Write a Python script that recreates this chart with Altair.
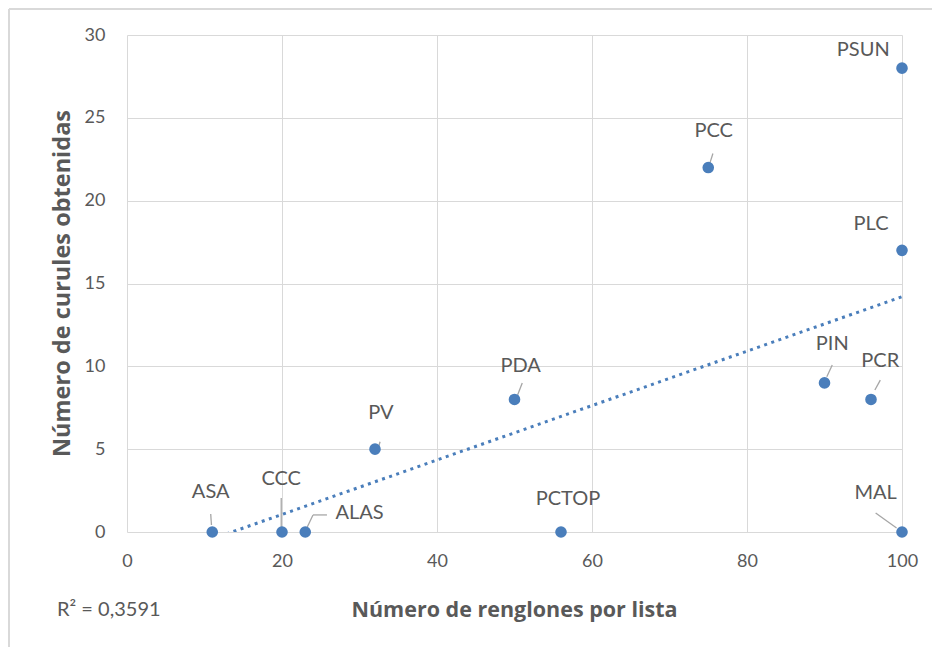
import altair as alt
import pandas as pd

# Data
parties = ["ASA", "CCC", "ALAS", "PV", "PDA", "PCTOP", "PCC", "PSUN", "PLC", "PIN", "PCR", "MAL"]
renglones = [11, 20, 23, 32, 50, 56, 75, 100, 100, 90, 96, 100]
curules = [0, 0, 0, 5, 8, 0, 22, 28, 17, 9, 8, 0]

# label anchor positions (data units)
label_x = [10.8, 19.9, 30.0, 32.75, 50.8, 56.9, 75.7, 95.0, 96.0, 91.0, 97.2, 96.6]
label_y = [2.41, 3.2, 1.15, 7.18, 10.0, 2.0, 24.2, 29.1, 18.6, 11.35, 10.35, 2.38]

# leader line segments (data units)
lead_x1 = [10.8, 19.9, 23.2, 32.65, 51.0, 75.6, 91.0, 97.2, 96.6, 24.0]
lead_y1 = [1.09, 2.05, 0.24, 5.45, 8.99, 22.85, 10.08, 9.17, 1.15, 1.03]
lead_x2 = [10.9, 19.9, 24.0, 32.35, 50.4, 75.2, 90.3, 96.5, 99.3, 25.8]
lead_y2 = [0.42, 0.3, 1.03, 4.95, 8.27, 22.25, 9.37, 8.57, 0.24, 1.03]

r2_text = ["R² = 0,3591"]

df = pd.DataFrame({"party": parties, "x": renglones, "y": curules})
labels = pd.DataFrame({"party": parties, "lx": label_x, "ly": label_y})
leads = pd.DataFrame({"x1": lead_x1, "y1": lead_y1, "x2": lead_x2, "y2": lead_y2})
single = pd.DataFrame({"t": r2_text})

BLUE = "#4a7ebb"
FONT = "Lato"
TFONT = "Open Sans"
TXT = "#595959"

xscale = alt.Scale(domain=[0, 100], nice=False, zero=False)
yscale = alt.Scale(domain=[0, 30], nice=False)

xaxis = alt.Axis(
    values=[0, 20, 40, 60, 80, 100], title="Número de renglones por lista",
    grid=True, gridColor="#d9d9d9", domain=False, ticks=False, labelFlush=False,
    labelFont=FONT, labelFontSize=18, labelColor=TXT, labelPadding=20,
    titleFont=TFONT, titleFontSize=21.5, titleFontWeight="bold", titleColor=TXT,
    titleX=387, titleY=78, titleBaseline="middle", titleAnchor="middle",
)
yaxis = alt.Axis(
    values=[0, 5, 10, 15, 20, 25, 30], title="Número de curules obtenidas",
    grid=True, gridColor="#d9d9d9", domain=False, ticks=False, labelFlush=False,
    labelFont=FONT, labelFontSize=18, labelColor=TXT, labelPadding=22,
    titleFont=TFONT, titleFontSize=23.5, titleFontWeight="bold", titleColor=TXT,
    titleX=-65, titleY=248, titleBaseline="middle", titleAngle=-90,
)

base = alt.Chart(df)

trend = base.transform_regression("x", "y", method="linear", extent=[11, 100]).mark_line(
    color=BLUE, strokeWidth=3, strokeDash=[3, 4.5], clip=True
).encode(
    x=alt.X("x:Q", scale=xscale, axis=xaxis),
    y=alt.Y("y:Q", scale=yscale, axis=yaxis),
)

points = base.mark_circle(size=135, color=BLUE, opacity=1).encode(
    x=alt.X("x:Q", scale=xscale),
    y=alt.Y("y:Q", scale=yscale),
)

leader = alt.Chart(leads).mark_rule(color="#a6a6a6", strokeWidth=1.3).encode(
    x="x1:Q", y="y1:Q", x2="x2:Q", y2="y2:Q"
)

text = alt.Chart(labels).mark_text(
    font=FONT, fontSize=20, color=TXT, baseline="middle", align="center"
).encode(x="lx:Q", y="ly:Q", text="party:N")

r2 = alt.Chart(single).mark_text(
    font=FONT, fontSize=20, color=TXT, align="left", baseline="middle"
).encode(x=alt.value(-70), y=alt.value(575), text="t:N")

border_left = alt.Chart(single).mark_rule(color="#d9d9d9", strokeWidth=2).encode(
    x=alt.value(-118), y=alt.value(-26), y2=alt.value(700)
)
border_top = alt.Chart(single).mark_rule(color="#d9d9d9", strokeWidth=2).encode(
    x=alt.value(-118), x2=alt.value(900), y=alt.value(-26)
)

chart = alt.layer(border_left, border_top, trend, leader, points, text, r2).properties(
    width=775, height=497,
    autosize=alt.AutoSizeParams(type="none"),
    padding={"left": 119, "top": 27, "right": 30, "bottom": 115},
).configure_view(stroke=None)

chart.save("out.html", embed_options={"renderer": "svg", "actions": False})
